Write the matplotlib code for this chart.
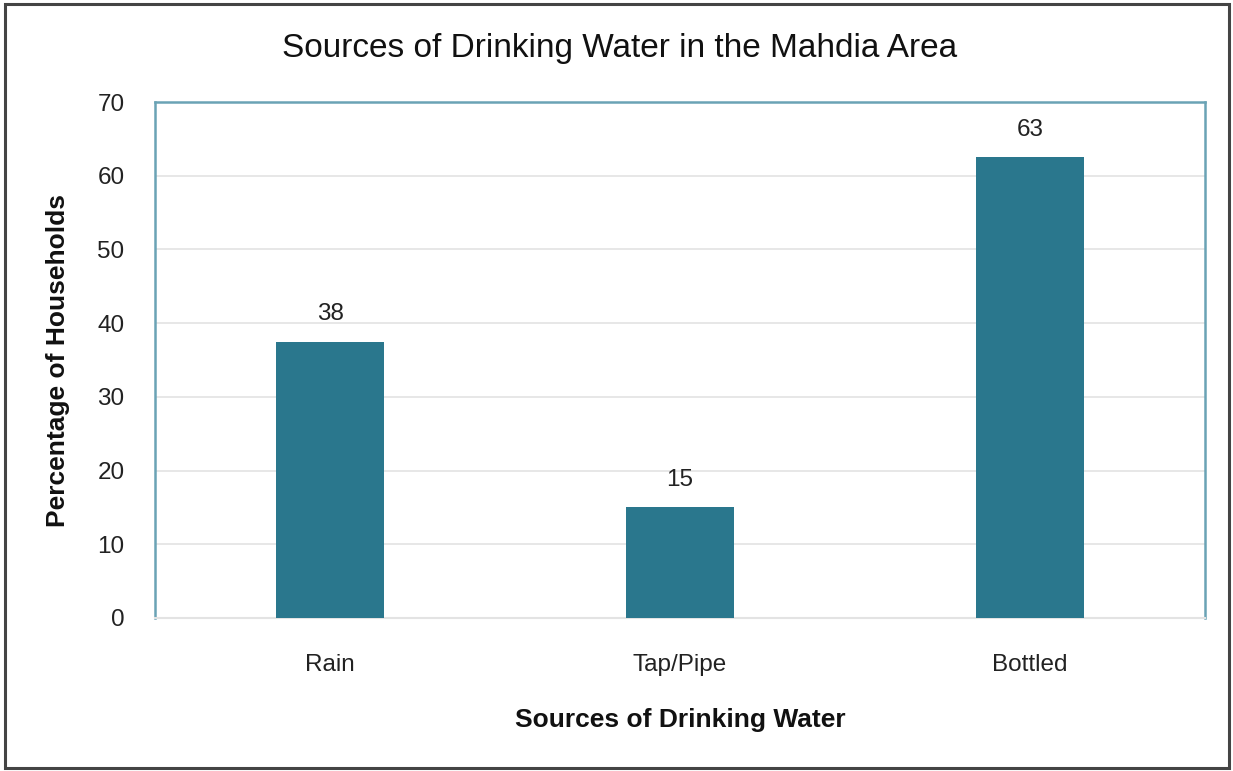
import matplotlib
matplotlib.use("Agg")
import matplotlib.pyplot as plt
from matplotlib.patches import Rectangle

categories = ["Rain", "Tap/Pipe", "Bottled"]
values = [37.5, 15.0, 62.5]
labels = ["38", "15", "63"]
yticks = [0, 10, 20, 30, 40, 50, 60, 70]

plt.rcParams['font.family'] = ['Liberation Sans', 'DejaVu Sans']

W, H = 1233, 771
fig = plt.figure(figsize=(W / 100, H / 100), dpi=100)
ax = fig.add_axes([155 / W, 1 - 618 / H, (1205 - 155) / W, (618 - 102) / H])

x = list(range(len(categories)))
ax.bar(x, values, width=0.31, color="#2a778d", zorder=3)
for xi, v, lab in zip(x, values, labels):
    ax.text(xi, v + 2.2, lab, ha="center", va="bottom", fontsize=17.5, color="#222222", zorder=4)

ax.set_xlim(-0.5, 2.5)
ax.set_ylim(0, 70)
ax.set_yticks(yticks)
ax.set_xticks(x)
ax.set_xticklabels(categories)
ax.tick_params(axis="both", length=0, labelsize=17.5, colors="#222222")
ax.tick_params(axis="x", pad=26)
ax.tick_params(axis="y", pad=22)
ax.yaxis.grid(True, color="#e3e3e3", linewidth=1.2, zorder=0)
ax.set_axisbelow(True)

for s in ["left", "top", "right"]:
    ax.spines[s].set_color("#6aa3b5")
    ax.spines[s].set_linewidth(1.8)
ax.spines["bottom"].set_color("#e3e3e3")
ax.spines["bottom"].set_linewidth(1.5)

xl = ax.set_xlabel("Sources of Drinking Water", fontsize=19, fontweight="bold", color="#111111")
xl.set_va("center")
ax.xaxis.set_label_coords(0.5, (618 - 720) / (618 - 102))
yl = ax.set_ylabel("Percentage of Households", fontsize=19, fontweight="bold", color="#111111")
yl.set_va("center")
ax.yaxis.set_label_coords((58 - 155) / (1205 - 155), 0.5)

fig.text(620 / W, 1 - 48 / H, "Sources of Drinking Water in the Mahdia Area",
         ha="center", va="center", fontsize=24, color="#111111")

fig.patches.append(Rectangle((5 / W, 3 / H), (1229 - 5) / W, (767 - 3) / H,
                             transform=fig.transFigure, fill=False,
                             edgecolor="#444444", linewidth=2.2))

fig.savefig("out.png", dpi=100)
